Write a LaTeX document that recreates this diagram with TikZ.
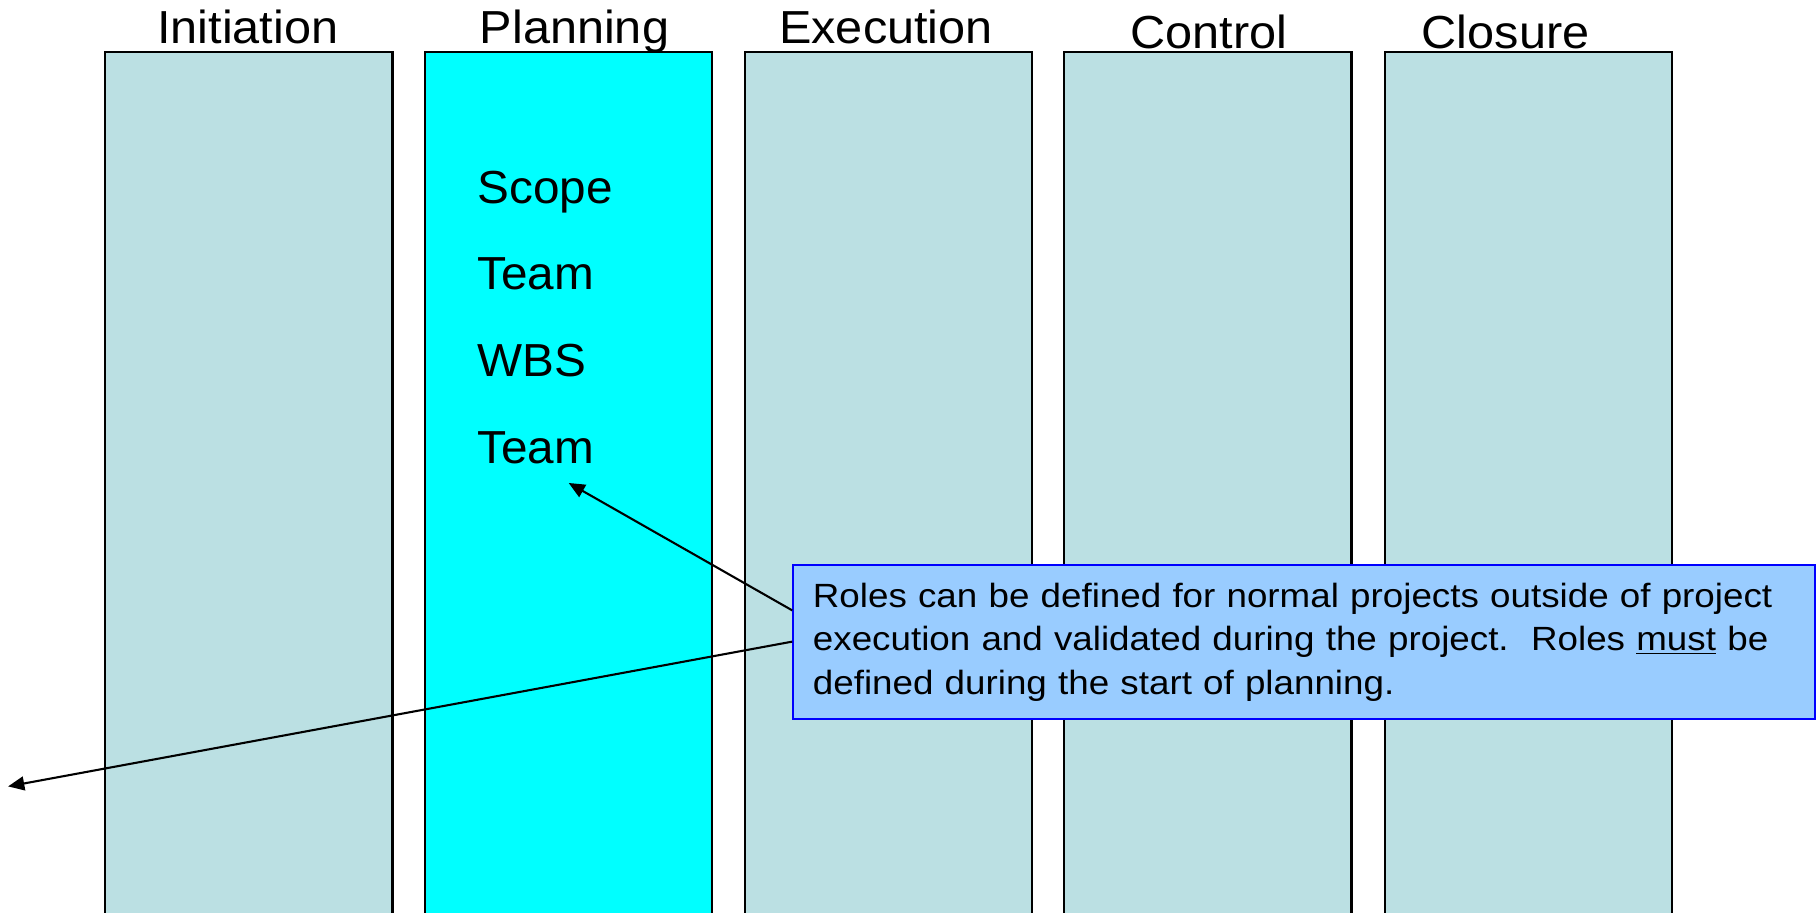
\documentclass[tikz,border=0pt]{standalone}
\usepackage{fontspec}
\setmainfont{Liberation Sans}
\newfontfamily\titlefont[FakeStretch=1.05]{Liberation Sans}
\newfontfamily\itemfont[FakeStretch=1.03]{Liberation Sans}
\newfontfamily\notefont[FakeStretch=1.095]{Liberation Sans}
\usetikzlibrary{arrows.meta}
\definecolor{colbg}{HTML}{BBE0E3}
\definecolor{plancyan}{HTML}{00FFFF}
\definecolor{callfill}{HTML}{99CCFF}
\definecolor{callborder}{HTML}{0000FF}
\tikzset{
  phase/.style={draw=black, line width=1.8pt, fill=colbg, minimum width=248pt, minimum height=800pt, anchor=north west, inner sep=0pt},
  title/.style={anchor=base, inner sep=0pt, font=\titlefont\fontsize{40}{48}\selectfont},
  item/.style={anchor=base west, inner sep=0pt, font=\itemfont\fontsize{40}{48}\selectfont},
  callout/.style={draw=callborder, line width=1.8pt, fill=callfill, anchor=north west, minimum width=882pt, minimum height=133pt, text width=848pt, inner xsep=17pt, inner ysep=0pt, align=left, font=\notefont\fontsize{29}{37.5}\selectfont},
  pointer/.style={draw=black, line width=1.8pt, -{Triangle[length=14pt,width=12pt]}}
}
\begin{document}
\begin{tikzpicture}[x=1pt,y=-1pt]
\clip (0,0) rectangle (1568,788);
\fill[white] (0,0) rectangle (1568,788);
% phase columns
\node[phase] (c1) at (90,44) {};
\node[phase, fill=plancyan] (c2) at (366,44) {};
\node[phase] (c3) at (642,44) {};
\node[phase] (c4) at (918,44) {};
\node[phase] (c5) at (1195,44) {};
% titles
\node[title] (t1) at (214,37.5) {Initiation};
\node[title] (t2) at (496,37.5) {Planning};
\node[title] (t3) at (765,37.5) {Execution};
\node[title] (t4) at (1044,41.5) {Control};
\node[title] (t5) at (1300,41.5) {Closure};
% planning items
\node[item] (scope) at (412,176) {Scope};
\node[item] (team1) at (412,250) {Team};
\node[item] (wbs) at (412,325) {WBS};
\node[item] (team2) at (412,400) {Team};
% callout
\node[callout] (note) at (684,487) {Roles can be defined for normal projects outside of project\\execution and validated during the project.\ \ Roles \underline{must} be\\defined during the start of planning.};
% arrow ends
\coordinate (tipA) at (491,417);
\coordinate (tipB) at (7,679);
\coordinate (startA) at ([yshift=-40pt]note.north west);
\coordinate (startB) at ([yshift=-67pt]note.north west);
\draw[pointer] (startA) -- (tipA);
\draw[pointer] (startB) -- (tipB);
\end{tikzpicture}
\end{document}
